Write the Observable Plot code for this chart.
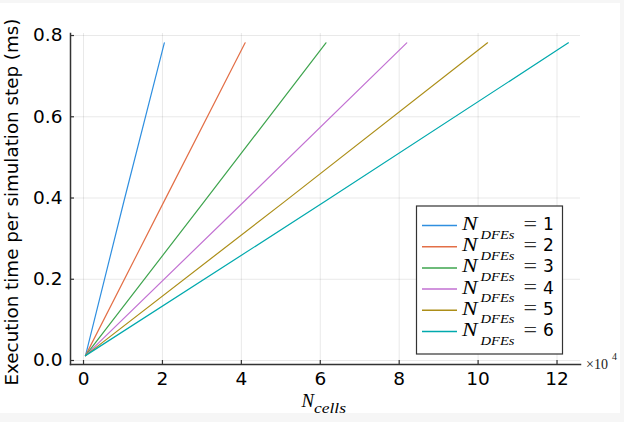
<!DOCTYPE html>
<html>
<head>
<meta charset="utf-8">
<script src="https://cdn.jsdelivr.net/npm/d3@7"></script>
<script src="https://cdn.jsdelivr.net/npm/@observablehq/plot@0.6"></script>
<style>
  html, body { margin: 0; padding: 0; background: #f6f6f6; }
  #wrap { position: relative; width: 624px; height: 422px; }
  #paper { position: absolute; left: 0; top: 3px; width: 620px; height: 410px; background: #fff; }
  #chart { position: absolute; left: 0; top: 0; }
</style>
</head>
<body>
<div id="wrap"><div id="paper"></div><div id="chart"></div></div>
<script>
// ---- data ----
const nDFEs = [1, 2, 3, 4, 5, 6];
const seriesLabels = ["1", "2", "3", "4", "5", "6"];
const colors = ["#2f8fe0", "#e36f47", "#3ea44e", "#c271d2", "#ac8e18", "#00a9ad"];
const cellsStart = [500, 500, 500, 500, 500, 500];
const cellsMid = [10240, 20480, 30720, 40960, 51200, 61440];
const cellsEnd = [20480, 40960, 61440, 81920, 102400, 122880];
const timeStart = [0.012, 0.012, 0.012, 0.012, 0.012, 0.012];
const timeMid = [0.392, 0.393, 0.393, 0.394, 0.393, 0.393];
const timeEnd = [0.782, 0.782, 0.782, 0.782, 0.782, 0.782];
const xTicks = [0, 20000, 40000, 60000, 80000, 100000, 120000];
const yTicks = [0, 0.2, 0.4, 0.6, 0.8];

const rows = [];
nDFEs.forEach((k, i) => {
  rows.push({series: k, cells: cellsStart[i], time: timeStart[i]});
  rows.push({series: k, cells: cellsMid[i], time: timeMid[i]});
  rows.push({series: k, cells: cellsEnd[i], time: timeEnd[i]});
});

const W = 624, H = 422, mT = 33, mB = 58, mL = 70, mR = 44;
const fw = W - mL - mR, fh = H - mT - mB;
const axisColor = "#333";

const chart = Plot.plot({
  width: W, height: H,
  marginTop: mT, marginBottom: mB, marginLeft: mL, marginRight: mR,
  style: {fontFamily: "DejaVu Sans", fontSize: "18.5px", color: "#000", background: "transparent", overflow: "visible"},
  x: {domain: [-3300, 125950], label: null},
  y: {domain: [-0.00985, 0.805], label: null},
  color: {domain: nDFEs, range: colors},
  marks: [
    Plot.gridX(xTicks, {stroke: "#000", strokeOpacity: 0.09, strokeWidth: 1}),
    Plot.gridY(yTicks, {stroke: "#000", strokeOpacity: 0.09, strokeWidth: 1}),
    Plot.line(rows, {x: "cells", y: "time", z: "series", stroke: "series", strokeWidth: 1.2}),
    Plot.frame({anchor: "left", stroke: axisColor, strokeWidth: 1.5}),
    Plot.frame({anchor: "bottom", stroke: axisColor, strokeWidth: 1.5}),
    Plot.tickX(xTicks, {x: d => d, insetTop: fh - 4, stroke: axisColor, strokeWidth: 1.2}),
    Plot.tickY(yTicks, {y: d => d, insetRight: fw - 4, stroke: axisColor, strokeWidth: 1.2}),
    Plot.axisX(xTicks, {tickSize: 0, tickPadding: 7, tickFormat: d => String(d / 10000), fontSize: 18.5}),
    Plot.axisY(yTicks, {tickSize: 0, tickPadding: 8, tickFormat: d3.format(".1f"), fontSize: 18.5})
  ]
});
document.getElementById("chart").appendChild(chart);

const svg = d3.select(chart);
const serif = "'Liberation Serif', 'DejaVu Serif', serif";

// y-axis title
svg.append("text")
  .attr("transform", "translate(18,202) rotate(-90)")
  .attr("text-anchor", "middle")
  .attr("font-family", "DejaVu Sans")
  .attr("font-size", 18.3)
  .attr("fill", "#000")
  .text("Execution time per simulation step (ms)");

// x-axis title N_cells
const xt = svg.append("g").attr("text-anchor", "start");
xt.append("text").attr("x", 301.5).attr("y", 407).attr("font-family", serif)
  .attr("font-style", "italic").attr("font-size", 19).attr("fill", "#000")
  .attr("textLength", 12.5).attr("lengthAdjust", "spacingAndGlyphs").text("N");
xt.append("text").attr("x", 314).attr("y", 412.5).attr("font-family", serif)
  .attr("font-style", "italic").attr("font-size", 14.5).attr("fill", "#000")
  .attr("textLength", 32).attr("lengthAdjust", "spacingAndGlyphs").text("cells");

// x10^4 multiplier
const mg = svg.append("g").attr("text-anchor", "start");
mg.append("text").attr("x", 586).attr("y", 369).attr("font-family", serif)
  .attr("font-size", 14).attr("fill", "#222").text("×10");
mg.append("text").attr("x", 612).attr("y", 360).attr("font-family", serif)
  .attr("font-size", 10).attr("fill", "#222").text("4");

// legend
const lg = svg.append("g").attr("text-anchor", "start");
lg.append("rect").attr("x", 416.5).attr("y", 206).attr("width", 146).attr("height", 148)
  .attr("fill", "#fff").attr("stroke", "#333").attr("stroke-width", 1.2);
nDFEs.forEach((k, i) => {
  const base = 230 + i * 21.2;
  const cy = base - 4.5;
  lg.append("line").attr("x1", 422).attr("x2", 457).attr("y1", cy).attr("y2", cy)
    .attr("stroke", colors[i]).attr("stroke-width", 1.5);
  lg.append("text").attr("x", 462).attr("y", base).attr("font-family", serif)
    .attr("font-style", "italic").attr("font-size", 18.5).attr("fill", "#000")
    .attr("textLength", 15.5).attr("lengthAdjust", "spacingAndGlyphs").text("N");
  lg.append("text").attr("x", 480.5).attr("y", base + 8.5).attr("font-family", serif)
    .attr("font-style", "italic").attr("font-size", 12.5).attr("fill", "#000")
    .attr("textLength", 34).attr("lengthAdjust", "spacingAndGlyphs").text("DFEs");
  lg.append("text").attr("x", 523.5).attr("y", base + 0.5).attr("font-family", serif)
    .attr("font-size", 21).attr("fill", "#333")
    .attr("textLength", 13.5).attr("lengthAdjust", "spacingAndGlyphs").text("=");
  lg.append("text").attr("x", 543).attr("y", base).attr("font-family", "DejaVu Sans")
    .attr("font-size", 17).attr("fill", "#000").text(seriesLabels[i]);
});
</script>
</body>
</html>
